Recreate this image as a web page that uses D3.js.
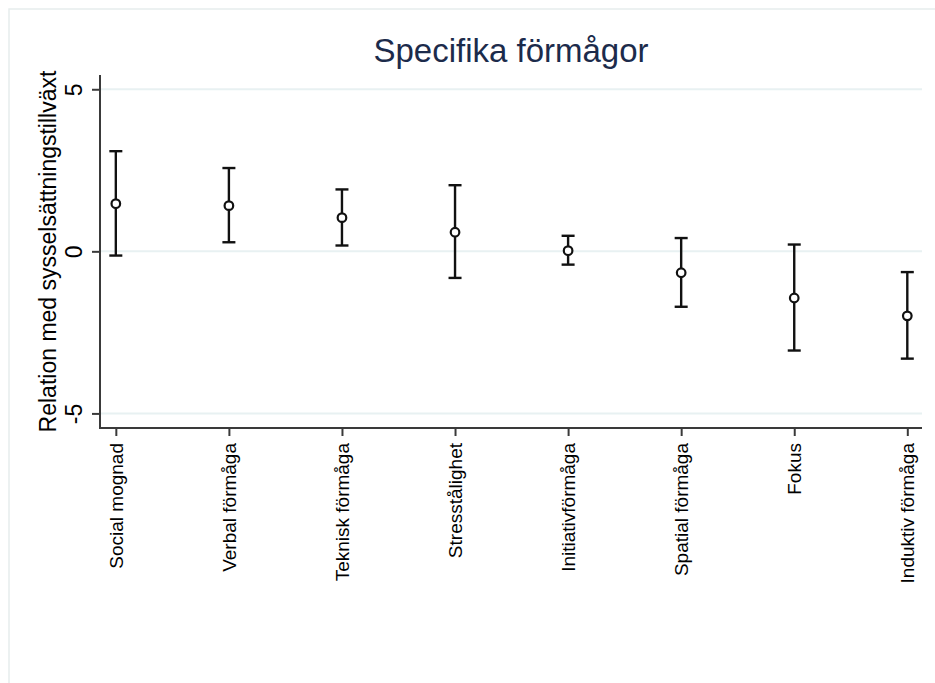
<!DOCTYPE html>
<html>
<head>
<meta charset="utf-8">
<script src="https://cdn.jsdelivr.net/npm/d3@7/dist/d3.min.js"></script>
<style>
  html, body { margin: 0; padding: 0; background: #ffffff; }
  svg { display: block; font-family: "Liberation Sans", Arial, sans-serif; }
</style>
</head>
<body>
<script>
// Coefficients with confidence intervals per ability
const categories = ["Social mognad", "Verbal förmåga", "Teknisk förmåga", "Stresstålighet",
                    "Initiativförmåga", "Spatial förmåga", "Fokus", "Induktiv förmåga"];
const estimates = [1.47, 1.41, 1.04, 0.59, 0.02, -0.66, -1.44, -1.99];
const lowerCI   = [-0.13, 0.28, 0.18, -0.82, -0.41, -1.71, -3.06, -3.31];
const upperCI   = [3.09, 2.57, 1.91, 2.04, 0.48, 0.41, 0.21, -0.64];
const yTicks    = [-5, 0, 5];
const titleText = "Specifika förmågor";
const yTitle    = "Relation med sysselsättningstillväxt";

const W = 935, H = 683;
const plot = { left: 100, right: 922, top: 75, bottom: 428 };

const svg = d3.select("body").append("svg")
  .attr("width", W).attr("height", H);

// outer graph frame
svg.append("rect")
  .attr("x", 9).attr("y", 9)
  .attr("width", W + 20).attr("height", H + 20)
  .attr("fill", "#ffffff")
  .attr("stroke", "#e6eded").attr("stroke-width", 1.5);

const x = d3.scaleLinear()
  .domain([0.86, 8.13])
  .range([plot.left, plot.right]);

const y = d3.scaleLinear()
  .domain([-5.45, 5.44])
  .range([plot.bottom, plot.top]);

// horizontal gridlines
svg.append("g").selectAll("line")
  .data(yTicks)
  .join("line")
  .attr("x1", plot.left).attr("x2", plot.right)
  .attr("y1", d => y(d)).attr("y2", d => y(d))
  .attr("stroke", "#e8f1f2").attr("stroke-width", 2);

// y axis
const yAxis = svg.append("g")
  .attr("transform", `translate(${plot.left},0)`)
  .call(d3.axisLeft(y).tickValues(yTicks).tickSize(8).tickSizeOuter(0).tickPadding(0).tickFormat(d3.format("d")));
yAxis.select(".domain").attr("stroke", "#3a3a3a").attr("stroke-width", 2)
  .attr("d", `M0,${plot.top}V${plot.bottom}`);
yAxis.selectAll(".tick line").attr("stroke", "#3a3a3a").attr("stroke-width", 2);
yAxis.selectAll(".tick text")
  .attr("transform", "rotate(-90)")
  .attr("x", 0).attr("y", -18)
  .attr("dy", 0)
  .attr("text-anchor", "middle")
  .attr("fill", "#000")
  .style("font-size", "23px")
  .text(d => d < 0 ? "-" + Math.abs(d) : d);

// x axis
const xAxis = svg.append("g")
  .attr("transform", `translate(0,${plot.bottom})`)
  .call(d3.axisBottom(x).tickValues(d3.range(1, categories.length + 1))
    .tickSize(8).tickSizeOuter(0).tickPadding(0)
    .tickFormat(i => categories[i - 1]));
xAxis.select(".domain").attr("stroke", "#3a3a3a").attr("stroke-width", 2)
  .attr("d", `M${plot.left - 1},0H${plot.right}`);
xAxis.selectAll(".tick line").attr("stroke", "#3a3a3a").attr("stroke-width", 2);
xAxis.selectAll(".tick text")
  .attr("transform", "rotate(-90)")
  .attr("x", -15).attr("y", 0)
  .attr("dy", "0.35em")
  .attr("text-anchor", "end")
  .attr("fill", "#000")
  .style("font-size", "19px");

// error bars
const rows = categories.map((c, i) => ({ i: i + 1, est: estimates[i], lo: lowerCI[i], hi: upperCI[i] }));
const capHalf = 6.5;
const bars = svg.append("g").attr("stroke", "#111").attr("stroke-width", 2.4).attr("fill", "none");
bars.selectAll("line.stem").data(rows).join("line").attr("class", "stem")
  .attr("x1", d => x(d.i)).attr("x2", d => x(d.i))
  .attr("y1", d => y(d.hi)).attr("y2", d => y(d.lo));
bars.selectAll("line.capHi").data(rows).join("line").attr("class", "capHi")
  .attr("x1", d => x(d.i) - capHalf).attr("x2", d => x(d.i) + capHalf)
  .attr("y1", d => y(d.hi)).attr("y2", d => y(d.hi));
bars.selectAll("line.capLo").data(rows).join("line").attr("class", "capLo")
  .attr("x1", d => x(d.i) - capHalf).attr("x2", d => x(d.i) + capHalf)
  .attr("y1", d => y(d.lo)).attr("y2", d => y(d.lo));

// point estimates
svg.append("g").selectAll("circle").data(rows).join("circle")
  .attr("cx", d => x(d.i)).attr("cy", d => y(d.est))
  .attr("r", 4.3)
  .attr("fill", "#ffffff")
  .attr("stroke", "#111").attr("stroke-width", 2.2);

// title
svg.append("text")
  .attr("x", (plot.left + plot.right) / 2).attr("y", 62)
  .attr("text-anchor", "middle")
  .attr("fill", "#1c2b4b")
  .style("font-size", "33px")
  .text(titleText);

// y axis title
svg.append("text")
  .attr("transform", `translate(56,${(plot.top + plot.bottom) / 2}) rotate(-90)`)
  .attr("text-anchor", "middle")
  .attr("fill", "#000")
  .style("font-size", "23px")
  .text(yTitle);
</script>
</body>
</html>
